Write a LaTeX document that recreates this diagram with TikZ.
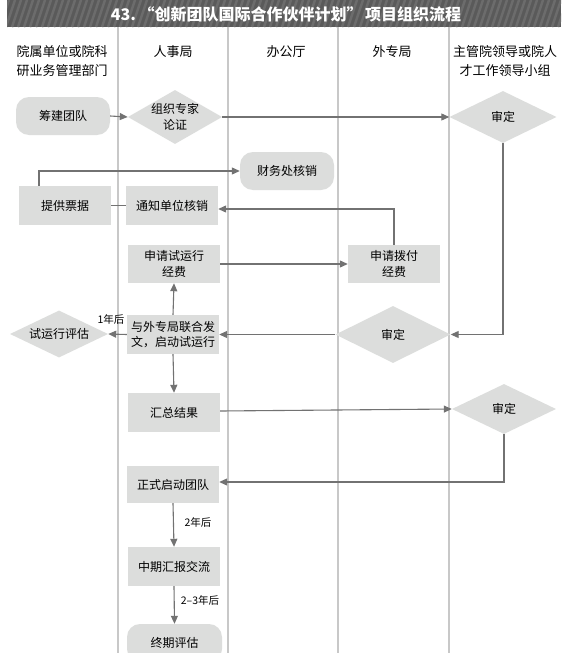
\documentclass[tikz,border=0pt]{standalone}
\usepackage{fontspec}
\setmainfont{Noto Sans CJK SC}
\usetikzlibrary{shapes.geometric,arrows.meta,calc}
\definecolor{boxgray}{HTML}{DCDDDC}
\definecolor{linegray}{HTML}{727272}
\definecolor{lanegray}{HTML}{C8C8C8}
\definecolor{barA}{HTML}{5A5A5A}
\definecolor{barB}{HTML}{6C6C6C}
\begin{document}
\begin{tikzpicture}[x=1pt,y=-1pt,
  every node/.style={inner sep=0pt, align=center, font=\fontsize{12}{15.5}\selectfont},
  box/.style={rectangle, fill=boxgray, minimum width=92pt, minimum height=38pt},
  rbox/.style={rectangle, rounded corners=13pt, fill=boxgray, minimum width=94pt, minimum height=38pt},
  dia/.style={diamond, fill=boxgray},
  conn/.style={draw=linegray, line width=1.1pt},
  arr/.style={conn, -{Triangle[length=8pt,width=7pt]}},
  lane/.style={draw=lanegray, line width=1.1pt},
  hdr/.style={font=\fontsize{13}{18.5}\selectfont},
  lbl/.style={font=\fontsize{10.5}{12}\selectfont}]
\useasboundingbox (0,0) rectangle (574,653);
\clip (0,0) rectangle (574,653);
\fill[white] (0,0) rectangle (574,653);

% title bar
\begin{scope}
  \clip (7,0) rectangle (561,27);
  \fill[barA] (7,0) rectangle (561,27);
  \foreach \i in {0,6,...,600} \draw[barB, line width=2.4pt] (\i,27) -- (\i+9,0);
\end{scope}
\node[text=white, font=\fontsize{16}{18}\selectfont\bfseries] (title) at (286,14) {43.\,“创新团队国际合作伙伴计划”\,项目组织流程};

% lanes
\coordinate (l1t) at (118,27); \coordinate (l1b) at (118,653);
\coordinate (l2t) at (228,27); \coordinate (l2b) at (228,653);
\coordinate (l3t) at (338,27); \coordinate (l3b) at (338,653);
\coordinate (l4t) at (449,27); \coordinate (l4b) at (449,653);
\draw[lane] (l1t) -- (l1b);
\draw[lane] (l2t) -- (l2b);
\draw[lane] (l3t) -- (l3b);
\draw[lane] (l4t) -- (l4b);

% headers
\node[hdr] (h1) at (62,61) {院属单位或院科\\研业务管理部门};
\node[hdr] (h2) at (173,52) {人事局};
\node[hdr] (h3) at (286,52) {办公厅};
\node[hdr] (h4) at (392,52) {外专局};
\node[hdr] (h5) at (505,61) {主管院领导或院人\\才工作领导小组};

% nodes
\node[rbox] (n1) at (63,116) {筹建团队};
\node[dia, aspect=1.75, minimum width=94pt, minimum height=54pt] (d1) at (175,117) {组织专家\\论证};
\node[dia, aspect=2, minimum width=107pt, minimum height=52pt] (s1) at (503,117) {审定};
\node[rbox] (cw) at (287,171) {财务处核销};
\node[box, minimum height=39pt] (tp) at (65,205.5) {提供票据};
\node[box, minimum height=39pt] (tz) at (172,205.5) {通知单位核销};
\node[box] (sq) at (174,264) {申请试运行\\经费};
\node[box] (sb) at (394,264) {申请拨付\\经费};
\node[box, minimum height=39pt] (yw) at (173,334.5) {与外专局联合发\\文，启动试运行};
\node[dia, aspect=2, minimum width=115pt, minimum height=57pt] (s2) at (393,334.5) {审定};
\node[dia, aspect=2.1, minimum width=98pt, minimum height=47pt] (pg) at (59,334) {试运行评估};
\node[box, minimum height=39pt] (hz) at (174,412.5) {汇总结果};
\node[dia, aspect=2, minimum width=104pt, minimum height=50pt] (s3) at (504,409) {审定};
\node[box, minimum height=37pt] (zs) at (173,484.5) {正式启动团队};
\node[box, minimum height=39pt] (zq) at (174,566.5) {中期汇报交流};
\node[rbox, minimum width=95pt] (zp) at (174.5,643) {终期评估};

% labels
\node[lbl] (lb1) at (111,319) {1年后};
\node[lbl] (lb2) at (198,522) {2年后};
\node[lbl] (lb3) at (200,600) {2–3年后};

% connectors
\draw[arr] (n1.east) -- (d1.west);
\draw[arr] (d1.east) -- (s1.west);
\draw[arr] (s1.south) |- (s2.east);
\draw[arr] ([xshift=-26pt]tp.north) |- (cw.west);
\draw[conn] (tz.west) -- (tp.east);
\draw[arr] (sb.north) |- ([yshift=-3.5pt]tz.east);
\draw[arr] (sq.east) -- (sb.west);
\draw[arr] (yw.north) -- (sq.south);
\draw[arr] (s2.west) -- (yw.east);
\draw[arr] (yw.west) -- (pg.east);
\draw[arr] (yw.south) -- (hz.north);
\draw[arr] ([yshift=1.5pt]hz.east) -- (s3.west);
\draw[arr] (s3.south) |- ([yshift=2.5pt]zs.east);
\draw[arr] (zs.south) -- (zq.north);
\draw[arr] (zq.south) -- (zp.north);
\end{tikzpicture}
\end{document}
